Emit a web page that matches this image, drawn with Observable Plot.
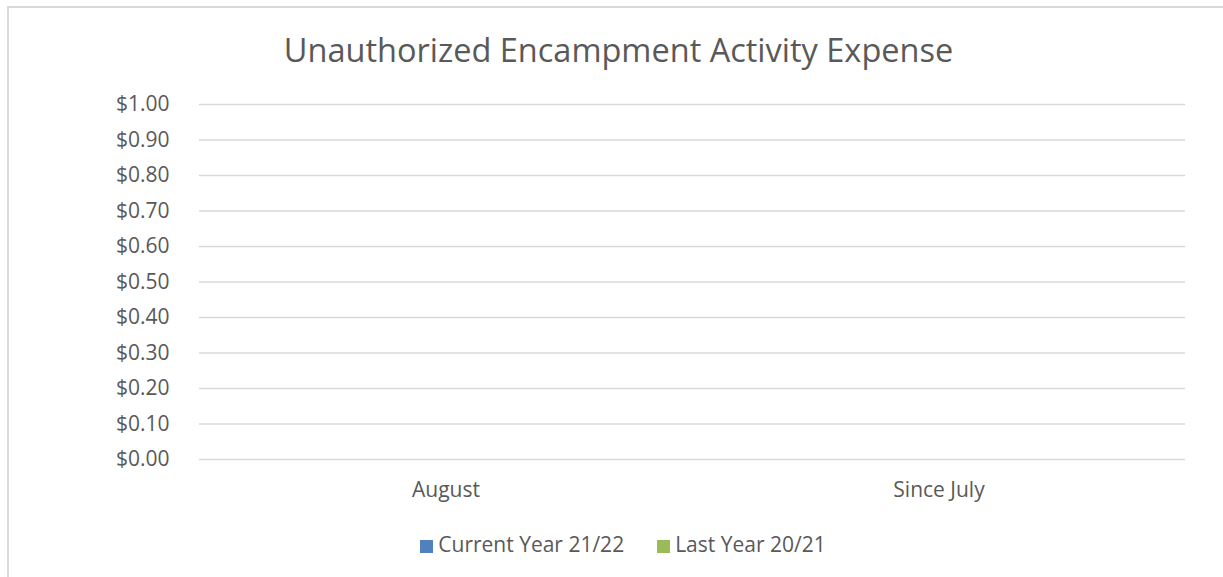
<!DOCTYPE html>
<html>
<head>
<meta charset="utf-8">
<script src="https://cdn.jsdelivr.net/npm/d3@7"></script>
<script src="https://cdn.jsdelivr.net/npm/@observablehq/plot@0.6"></script>
<style>
  html, body { margin: 0; padding: 0; background: #fff; }
  body { width: 1223px; height: 577px; position: relative; overflow: hidden; font-family: "Open Sans", sans-serif; color: #595959; }
  #frame { position: absolute; left: 7px; top: 6px; width: 1230px; height: 590px; border-top: 2px solid #d9d9d9; border-left: 2px solid #d9d9d9; box-sizing: border-box; }
  #title { position: absolute; left: 0; width: 1237px; top: 27px; text-align: center; font-size: 32.5px; line-height: 46px; }
  #chart { position: absolute; left: 0; top: 1px; }
  #legend { position: absolute; left: 0; width: 1246px; top: 529px; text-align: center; font-size: 21px; line-height: 30px; white-space: nowrap; }
  .item { display: inline-block; margin: 0 16.5px; }
  .sw { display: inline-block; width: 13px; height: 13px; margin-right: 5px; vertical-align: -1px; }
</style>
</head>
<body>
<div id="frame"></div>
<div id="title">Unauthorized Encampment Activity Expense</div>
<div id="chart"></div>
<div id="legend"></div>
<script>
const categories = ["August", "Since July"];
const series = ["Current Year 21/22", "Last Year 20/21"];
const currentYear = [0, 0];
const lastYear = [0, 0];
const colors = ["#4f81bd", "#9bbb59"];
const yTicks = [0, 0.1, 0.2, 0.3, 0.4, 0.5, 0.6, 0.7, 0.8, 0.9, 1.0];

const data = [];
categories.forEach((c, i) => {
  data.push({category: c, series: series[0], value: currentYear[i]});
  data.push({category: c, series: series[1], value: lastYear[i]});
});

const chart = Plot.plot({
  width: 1223,
  height: 510,
  marginTop: 103,
  marginLeft: 198,
  marginRight: 38,
  marginBottom: 52,
  style: {fontFamily: "'Open Sans', sans-serif", fontSize: "21px", color: "#595959", background: "transparent", overflow: "visible"},
  fx: {domain: categories, label: null, padding: 0, axis: "bottom", tickSize: 0, tickPadding: 23},
  x: {domain: series, axis: null, paddingInner: 0.1, paddingOuter: 1.2},
  y: {domain: [0, 1], ticks: yTicks, tickFormat: d3.format("$.2f"), label: null, tickSize: 0, tickPadding: 30},
  color: {domain: series, range: colors},
  marks: [
    Plot.ruleY(yTicks, {stroke: "#d9d9d9", strokeWidth: 1.5}),
    Plot.barY(data, {fx: "category", x: "series", y: "value", fill: "series"})
  ]
});
document.getElementById("chart").appendChild(chart);

const legend = document.getElementById("legend");
series.forEach((s, i) => {
  const item = document.createElement("span");
  item.className = "item";
  const sw = document.createElement("span");
  sw.className = "sw";
  sw.style.background = colors[i];
  item.appendChild(sw);
  item.appendChild(document.createTextNode(s));
  legend.appendChild(item);
});
</script>
</body>
</html>
